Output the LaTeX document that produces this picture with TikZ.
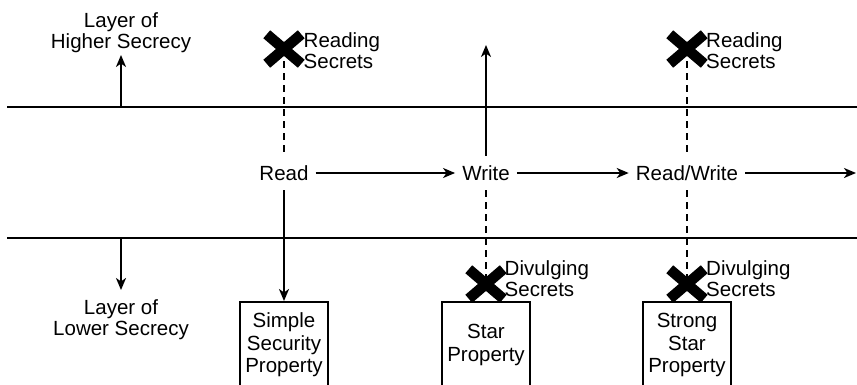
\documentclass[tikz,border=0pt]{standalone}
\usepackage{fontspec}
\setmainfont{Liberation Sans}
\usetikzlibrary{arrows.meta,shapes.misc}
\begin{document}
\begin{tikzpicture}[x=1pt,y=-1pt,
  every node/.style={font=\fontsize{20.5}{21}\selectfont},
  lbl/.style={text height=14.5pt, text depth=0pt, inner xsep=7pt, inner ysep=10pt},
  side/.style={align=left, inner sep=1.5pt, anchor=west},
  layer/.style={align=center, inner sep=2pt},
  prop/.style={draw, line width=2pt, minimum width=88pt, minimum height=86pt,
    align=center, inner xsep=3pt, font=\fontsize{20.5}{22.5}\selectfont},
  xmark/.style={cross out, draw, line width=10.5pt, minimum width=24pt, minimum height=19pt, inner sep=0pt},
  arr/.style={-{Stealth[length=12pt,width=10pt,inset=3.5pt]}, line width=2pt},
  dsh/.style={line width=2pt, dash pattern=on 7pt off 5pt},
  rule/.style={line width=2pt}]
\clip (0,0) rectangle (857,384);
\fill[white] (0,0) rectangle (857,384);
% layer lines
\coordinate (t1) at (7,107);
\coordinate (t2) at (857,107);
\coordinate (b1) at (7,238);
\coordinate (b2) at (857,238);
\draw[rule] (t1) -- (t2);
\draw[rule] (b1) -- (b2);
% layer labels
\node[layer, anchor=south] (hl) at (121,55) {Layer of\\Higher Secrecy};
\node[layer, anchor=north] (ll) at (121,297) {Layer of\\Lower Secrecy};
\draw[arr] (hl.south |- t1) -- (hl.south);
\draw[arr, shorten >=7pt] ([yshift=1pt]ll.north |- b1) -- (ll.north);
% operation labels
\node[lbl] (read) at (284,173) {Read};
\node[lbl] (write) at (486,173) {Write};
\node[lbl] (rw) at (687,173) {Read/Write};
\coordinate (end) at (856,173);
\coordinate (wu) at (486,45);
\draw[arr] (read.east) -- (write.west);
\draw[arr] (write.east) -- (rw.west);
\draw[arr] (rw.east) -- (end);
% property boxes
\node[prop] (p1) at (284,345) {Simple\\Security\\Property};
\node[prop] (p2) at (486,345) {Star\\Property};
\node[prop] (p3) at (687,345) {Strong\\Star\\Property};
% crosses
\coordinate (xr1c) at (284,49);
\coordinate (xr2c) at (687,49);
\coordinate (xd1c) at (486,284);
\coordinate (xd2c) at (687,284);
% connectors
\draw[dsh] (xr1c) -- (read.north);
\draw[arr] (read.south) -- (p1.north);
\draw[arr] (write.north) -- (wu);
\draw[dsh] (write.south) -- (xd1c);
\draw[dsh] (xr2c) -- (rw.north);
\draw[dsh] (rw.south) -- (xd2c);
\node[xmark] (xr1) at (xr1c) {};
\node[xmark] (xr2) at (xr2c) {};
\node[xmark] (xd1) at (xd1c) {};
\node[xmark] (xd2) at (xd2c) {};
% side labels
\node[side] (rs1) at (302,50.5) {Reading\\Secrets};
\node[side] (rs2) at (704.5,50.5) {Reading\\Secrets};
\node[side] (ds1) at (503,279) {Divulging\\Secrets};
\node[side] (ds2) at (704.5,279) {Divulging\\Secrets};
\end{tikzpicture}
\end{document}
